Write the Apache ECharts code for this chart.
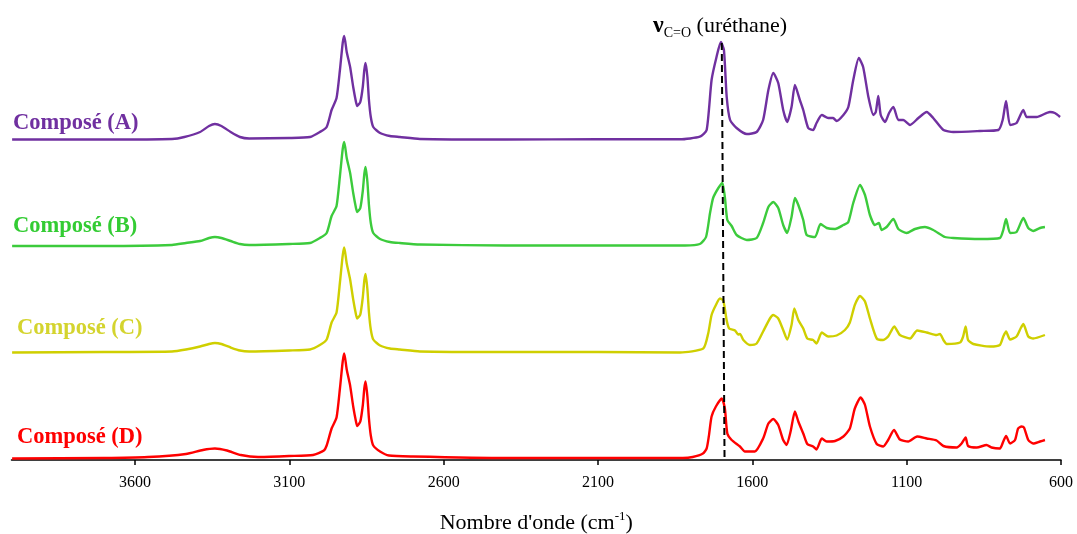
<!DOCTYPE html>
<html>
<head>
<meta charset="utf-8">
<script src="https://cdn.jsdelivr.net/npm/echarts@6/dist/echarts.min.js"></script>
<style>
html,body{margin:0;padding:0;background:#fff;}
#chart{width:1077px;height:534px;}
</style>
</head>
<body>
<div id="chart"></div>
<script>
// Tick labels on the wavenumber axis (cm-1)
const tickValues = [3600, 3100, 2600, 2100, 1600, 1100, 600];
const seriesNames = ['Composé (A)', 'Composé (B)', 'Composé (C)', 'Composé (D)'];
const seriesColors = ['#7030A0', '#3CCB3C', '#CFCF00', '#FF0000'];
const labelColors = ['#7030A0', '#33CC33', '#D4D42E', '#FF0000'];
// vertical stacking offsets of each spectrum (arbitrary units)
const offsets = [320, 214, 107.5, 1.5];
// C=O urethane marker (wavenumber at top, at bottom) and its height
const markerWn = [1699, 1690];
const markerTop = 417;

// spectra: [wavenumber, absorbance (a.u.)]
const specA = [
[3998,0.5],[3700,0.5],[3480,1],[3440,3],[3389,8],[3360,14],[3341,16],[3320,14],[3290,8],[3260,3],[3230,1.5],[3100,2],[3033,3],[3001,8],[2979,13],[2963,30],[2947,42],[2936,70],[2927,97],[2922,104],[2914,88],[2903,73],[2893,53],[2884,38],[2880,34],[2870,38],[2862,53],[2857,70],[2853,77],[2847,63],[2842,40],[2836,23],[2828,13],[2806,7],[2774,4],[2742,3],[2677,1],[2400,0.5],[2100,0.8],[1834,0.7],[1770,3.3],[1748,10],[1732,60],[1716,83],[1702,98],[1692,90],[1683,43],[1672,20],[1651,12],[1618,6],[1586,8],[1565,20],[1548,50],[1532,67],[1516,57],[1500,30],[1487,18],[1473,33],[1462,55],[1446,40],[1435,30],[1419,12],[1403,10],[1392,17],[1375,25],[1354,22],[1338,22],[1327,19],[1305,25],[1289,33],[1273,60],[1255,82],[1241,73],[1224,43],[1208,25],[1200,28],[1192,44],[1184,25],[1170,18],[1157,27],[1143,33],[1127,20],[1111,20],[1089,15],[1062,22],[1035,28],[1014,22],[981,10],[949,8],[863,9],[803,10],[789,20],[778,39],[765,15],[744,17],[722,30],[711,23],[679,23],[636,28],[620,27],[603,23]
];
const specB = [
[3998,0],[3700,0],[3480,1],[3435,3],[3389,5],[3360,8],[3341,9],[3320,8],[3290,5],[3260,2],[3230,1],[3100,2],[3033,3],[3001,8],[2979,13],[2963,30],[2947,40],[2936,70],[2927,97],[2922,104],[2914,88],[2903,73],[2893,53],[2884,38],[2880,34],[2870,38],[2862,55],[2857,72],[2853,79],[2847,64],[2842,41],[2836,23],[2828,13],[2806,7],[2774,4],[2742,3],[2677,1.5],[2400,0.5],[2100,0.5],[1818,0.5],[1770,2],[1750,9],[1737,33],[1727,48],[1710,58],[1697,63],[1689,49],[1681,26],[1667,20],[1651,11],[1618,6],[1586,8],[1565,23],[1548,39],[1532,44],[1516,38],[1500,21],[1487,13],[1473,29],[1462,48],[1451,41],[1435,26],[1424,11],[1397,9],[1379,22],[1359,18],[1332,17],[1305,21],[1289,24],[1273,43],[1251,61],[1235,51],[1219,31],[1203,21],[1190,23],[1181,16],[1165,19],[1143,27],[1127,17],[1100,13],[1073,17],[1041,19],[1014,16],[976,9],[949,8],[863,7],[798,8],[787,16],[778,27],[765,13],[744,14],[722,28],[706,18],[690,15],[668,18],[652,19]
];
const specC = [
[3998,0],[3700,0.5],[3480,1],[3435,3],[3389,6],[3360,8.5],[3341,9.5],[3320,8.5],[3290,5],[3260,2],[3230,1],[3100,2],[3033,3],[3001,7.5],[2979,13],[2963,30],[2947,40],[2936,70],[2927,97],[2922,105],[2914,89],[2903,73],[2893,53],[2884,38],[2880,34],[2870,38],[2862,55],[2857,72],[2853,78.5],[2847,63],[2842,40],[2836,23],[2828,13],[2806,7],[2774,4],[2742,3],[2677,1],[2400,0.5],[2100,0.5],[1834,0],[1759,4],[1743,19],[1732,37.5],[1718,47.5],[1705,54],[1694,52],[1683,32],[1675,24],[1656,22],[1646,18],[1640,18.5],[1629,12.5],[1608,7.5],[1586,9],[1565,21],[1543,34],[1532,37.5],[1516,34],[1500,22.5],[1487,13],[1473,27.5],[1464,44],[1451,32.5],[1435,24],[1422,14],[1403,12.5],[1392,9],[1375,20],[1354,16],[1327,17],[1300,22.5],[1284,30],[1268,47.5],[1251,56.5],[1235,51],[1219,34],[1197,14],[1176,12.5],[1160,16],[1140,26],[1122,17.5],[1089,14],[1066,22],[1035,20],[1003,17.5],[992,18.5],[981,12.5],[970,8.5],[927,10],[917,16],[909,26],[901,12.5],[884,8.5],[830,6],[798,7.5],[787,16],[778,21],[765,13],[744,16],[731,24],[722,28.5],[706,16],[690,14],[652,17.5]
];
const specD = [
[3998,0],[3700,0.5],[3558,1.5],[3435,4.5],[3380,8.5],[3341,10],[3302,8],[3257,3.5],[3201,1.5],[3101,2.5],[3023,3.5],[2988,8],[2979,13],[2963,30],[2947,41],[2936,70],[2927,97],[2922,105],[2914,89],[2903,73],[2893,52],[2884,37],[2880,32.5],[2870,37],[2862,53],[2857,70],[2853,77],[2847,62],[2842,40],[2836,23],[2828,13],[2806,7],[2777,3],[2699,2],[2400,0.5],[2100,0.5],[1825,0.5],[1793,1.5],[1760,5],[1748,10],[1741,22],[1732,42],[1718,52],[1699,60],[1689,50],[1681,25],[1667,18.5],[1640,12],[1624,7],[1592,7],[1565,20],[1548,35],[1532,39.5],[1516,33.5],[1500,18.5],[1489,13.5],[1476,27],[1462,47],[1451,37],[1435,25],[1422,14.5],[1403,12],[1392,9],[1375,20],[1359,17],[1332,17.5],[1305,22],[1284,30],[1268,50],[1249,61],[1235,53.5],[1219,32],[1197,14.5],[1176,12],[1160,18.5],[1141,28.5],[1122,19],[1095,17],[1066,22],[1035,20],[1003,18],[981,12.5],[938,11],[922,15],[909,21],[901,12.5],[873,11],[841,13.5],[825,11],[798,10],[787,17],[778,22.5],[765,15],[749,18.5],[739,30],[728,32],[720,31],[706,18.5],[690,15],[668,17],[652,18.5]
];
const spectra = [specA, specB, specC, specD];

const FONT = "'Liberation Serif', 'Times New Roman', serif";
const chart = echarts.init(document.getElementById('chart'), null, {renderer: 'canvas'});

const series = spectra.map((spec, i) => ({
  name: seriesNames[i],
  type: 'line',
  data: spec.map(p => [p[0], p[1] + offsets[i]]),
  showSymbol: false,
  smooth: 0.2,
  lineStyle: {color: seriesColors[i], width: 2.4, join: 'round'},
  itemStyle: {color: seriesColors[i]},
  z: 2,
  animation: false
}));
series.push({
  type: 'line',
  data: [[markerWn[0], markerTop], [markerWn[1], 0]],
  showSymbol: false,
  lineStyle: {color: '#000', width: 2, type: [7, 4]},
  z: 5,
  animation: false
});

const labelY = [123, 226, 328, 437];
const labelX = [13, 13, 17, 17];
const graphic = seriesNames.map((n, i) => ({
  type: 'text',
  x: labelX[i],
  y: labelY[i],
  style: {
    text: n,
    fill: labelColors[i],
    font: "bold 22.5px " + FONT,
    verticalAlign: 'middle',
    align: 'left'
  }
}));
graphic.push({
  type: 'text',
  x: 720,
  y: 26,
  style: {
    text: '{nu|ν}{sub|C=O}{t| (uréthane)}',
    align: 'center',
    verticalAlign: 'middle',
    rich: {
      nu: {fontFamily: FONT, fontWeight: 'bold', fontSize: 24, fill: '#000', lineHeight: 28},
      sub: {fontFamily: FONT, fontSize: 14, fill: '#000', verticalAlign: 'bottom', lineHeight: 16},
      t: {fontFamily: FONT, fontSize: 22, fill: '#000', lineHeight: 28}
    }
  }
});

chart.setOption({
  backgroundColor: '#fff',
  animation: false,
  grid: {left: 11.5, right: 16, top: 30, bottom: 74, outerBoundsMode: 'none', containLabel: false},
  xAxis: {
    type: 'value',
    min: 600,
    max: 4000,
    inverse: true,
    splitLine: {show: false},
    axisLine: {lineStyle: {color: '#000', width: 1.5}},
    axisTick: {customValues: tickValues, length: 5, lineStyle: {color: '#000', width: 1.5}},
    axisLabel: {customValues: tickValues, color: '#000', fontFamily: FONT, fontSize: 16, margin: 15,
      formatter: v => String(v)},
    name: '{a|Nombre d\'onde (cm}{sup|-1}{a|)}',
    nameLocation: 'middle',
    nameGap: 50,
    nameTextStyle: {
      rich: {
        a: {fontFamily: FONT, fontSize: 22, color: '#000', lineHeight: 26},
        sup: {fontFamily: FONT, fontSize: 13, color: '#000', verticalAlign: 'top', lineHeight: 14}
      }
    }
  },
  yAxis: {type: 'value', min: 0, max: 430, show: false},
  graphic: graphic,
  series: series
});
</script>
</body>
</html>
